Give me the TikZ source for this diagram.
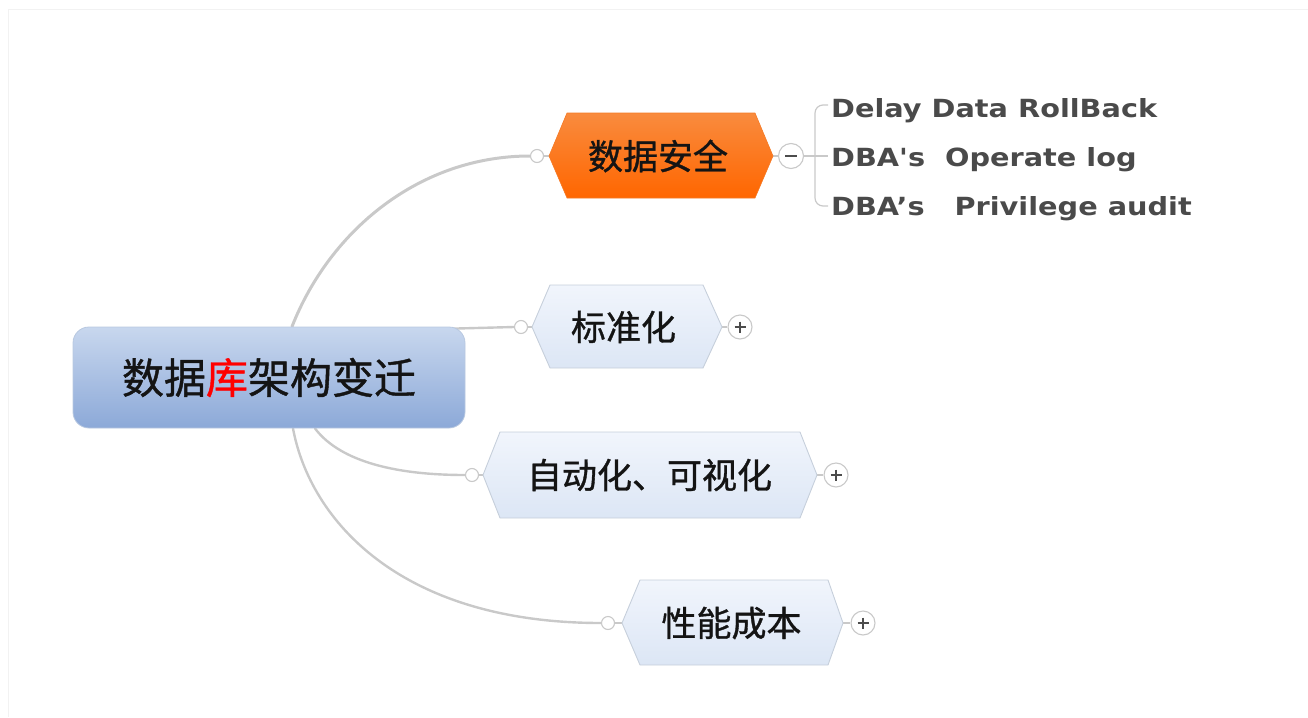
\documentclass[tikz,border=0pt]{standalone}
\usepackage{graphicx}
\usepackage{fontspec}
\newfontfamily\cjk{Noto Sans CJK SC}[FakeBold=1]
\newfontfamily\enfont{DejaVu Sans}
\usetikzlibrary{backgrounds,calc}
\definecolor{rootTop}{HTML}{C8D7EE}
\definecolor{rootBot}{HTML}{8CA9D8}
\definecolor{rootBorder}{HTML}{B8C8E0}
\definecolor{orTop}{HTML}{F98B3E}
\definecolor{orBot}{HTML}{FF6600}
\definecolor{orBorder}{HTML}{F57A25}
\definecolor{hexTop}{HTML}{F1F5FC}
\definecolor{hexBot}{HTML}{DCE6F5}
\definecolor{hexBorder}{HTML}{C6CFDB}
\definecolor{lineGray}{HTML}{C9C9C9}
\definecolor{enGray}{HTML}{4A4A4A}
\definecolor{frameGray}{HTML}{F2F2F2}
\begin{document}
\begin{tikzpicture}[x=1pt,y=-1pt,
  rootbox/.style={rounded corners=16pt, minimum width=392pt, minimum height=101pt,
    top color=rootTop, bottom color=rootBot, draw=rootBorder, line width=0.8pt,
    inner sep=0, font=\cjk\fontsize{42}{48}\selectfont, text=black!92},
  hexblue/.style={draw=hexBorder, line width=0.9pt, top color=hexTop, bottom color=hexBot},
  hexorange/.style={draw=orBorder, line width=0.6pt, top color=orTop, bottom color=orBot},
  cjktext/.style={font=\cjk\fontsize{35}{40}\selectfont, text=black!92, inner sep=0},
  entext/.style={font=\enfont\bfseries\fontsize{25}{30}\selectfont, text=enGray, inner sep=0, anchor=base west},
  conn/.style={draw=lineGray, line width=2.4pt, line cap=round},
  thinconn/.style={draw=lineGray, line width=1.2pt},
  knob/.style={circle, draw=lineGray, fill=white, line width=1.1pt, minimum size=13pt, inner sep=0},
  toggleplus/.style={circle, draw=lineGray, fill=white, line width=1.1pt, minimum size=24pt, inner sep=0,
    path picture={\draw[black!70, line width=1.4pt] ($(path picture bounding box.center)+(-5.5,0)$) -- ++(11,0)
      ($(path picture bounding box.center)+(0,-5.5)$) -- ++(0,11);}},
  toggleminus/.style={circle, draw=lineGray, fill=white, line width=1.1pt, minimum size=25pt, inner sep=0,
    path picture={\draw[black!70, line width=2.6pt] ($(path picture bounding box.center)+(-6,0)$) -- ++(12,0);}}
]
\useasboundingbox (0,0) rectangle (1308,717);
% faint frame of the screenshot
\draw[frameGray, line width=1pt] (1308,10) -- (8,10) -- (8,717);

% root
\node[rootbox] (root) at (269,377.5) {数据{\color{red}库}架构变迁};

% hexagon 1 (orange)
\draw[hexorange] (549,156) -- (567,113) -- (755,113) -- (773,156) -- (755,198) -- (567,198) -- cycle;
\coordinate (h1w) at (549,156);
\coordinate (h1e) at (773,156);
\node[cjktext] (sec) at (658,156) {数据安全};

% hexagon 2
\draw[hexblue] (532,327) -- (550,285) -- (703,285) -- (722,327) -- (703,368) -- (550,368) -- cycle;
\coordinate (h2w) at (532,327);
\coordinate (h2e) at (722,327);
\node[cjktext] (std) at (623.5,327) {标准化};

% hexagon 3
\draw[hexblue] (483,475) -- (500,432) -- (800,432) -- (817,475) -- (800,518) -- (500,518) -- cycle;
\coordinate (h3w) at (483,475);
\coordinate (h3e) at (817,475);
\node[cjktext] (auto) at (649.5,475) {自动化、可视化};

% hexagon 4
\draw[hexblue] (622,623) -- (640,580) -- (828,580) -- (843,623) -- (828,665) -- (640,665) -- cycle;
\coordinate (h4w) at (622,623);
\coordinate (h4e) at (843,623);
\node[cjktext] (perf) at (731.5,623) {性能成本};

% knobs and toggles
\node[knob] (k1) at (537,156) {};
\node[knob] (k2) at (521,327) {};
\node[knob] (k3) at (472,475) {};
\node[knob] (k4) at (608,623) {};
\node[toggleminus] (t1) at (791,156) {};
\node[toggleplus] (t2) at (740,327) {};
\node[toggleplus] (t3) at (836,475) {};
\node[toggleplus] (t4) at (863,623) {};

% sub-items
\node[entext] (d1) at (831,117) {\scalebox{1.15}[1]{Delay Data RollBack}};
\node[entext] (d2) at (831,166) {\scalebox{1.15}[1]{DBA's\ \ Operate log}};
\node[entext] (d3) at (831,215) {\scalebox{1.15}[1]{DBA’s\ \ \ Privilege audit}};

\coordinate (bj) at (815,156);
\coordinate (b1) at (828,105);
\coordinate (b2) at (828,156);
\coordinate (b3) at (828,206);

\begin{scope}[on background layer]
  \draw[conn, line width=3pt] ([xshift=23pt]root.north) .. controls (330,230) and (420,156) .. (k1.west);
  \draw[conn] ([xshift=-12pt,yshift=-2pt]root.north east) -- (k2.west);
  \draw[conn] ([xshift=46pt]root.south) .. controls (335,455) and (380,475) .. (k3.west);
  \draw[conn] ([xshift=24pt]root.south) .. controls (310,520) and (400,623) .. (k4.west);
  \draw[thinconn] (k1.east) -- (h1w);
  \draw[thinconn] (k2.east) -- (h2w);
  \draw[thinconn] (k3.east) -- (h3w);
  \draw[thinconn] (k4.east) -- (h4w);
  \draw[thinconn] (h1e) -- (t1.west);
  \draw[thinconn] (h2e) -- (t2.west);
  \draw[thinconn] (h3e) -- (t3.west);
  \draw[thinconn] (h4e) -- (t4.west);
  \draw[thinconn] (t1.east) -- (b2);
  \draw[thinconn, rounded corners=8pt] (b1) -| (bj) |- (b3);
\end{scope}
\end{tikzpicture}
\end{document}
